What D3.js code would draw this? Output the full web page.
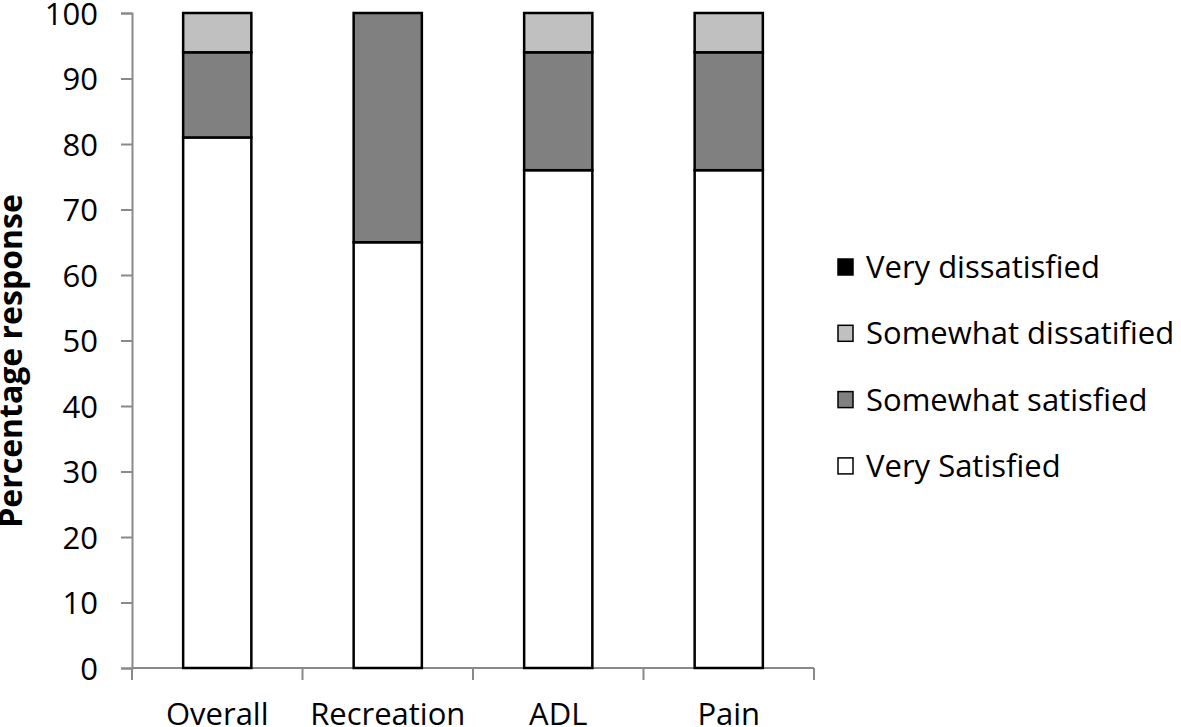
<!DOCTYPE html>
<html><head><meta charset="utf-8">
<script src="https://cdn.jsdelivr.net/npm/d3@7"></script>
<style>body{margin:0;background:#fff}svg{display:block}</style>
</head><body>
<svg id="c" width="1181" height="727"></svg>
<script>
const categories = ["Overall", "Recreation", "ADL", "Pain"];
const veryDissatisfied = [0, 0, 0, 0];
const somewhatDissatisfied = [6, 0, 6, 6];
const somewhatSatisfied = [13, 35, 18, 18];
const verySatisfied = [81, 65, 76, 76];
const seriesNames = ["Very Satisfied", "Somewhat satisfied", "Somewhat dissatified", "Very dissatisfied"];
const seriesColors = ["#ffffff", "#808080", "#c0c0c0", "#000000"];
const yTicks = [0, 10, 20, 30, 40, 50, 60, 70, 80, 90, 100];

const font = "'Open Sans', sans-serif";
const fs = 31;
const svg = d3.select("#c");
const x = d3.scaleBand().domain(categories).range([132, 814]).paddingInner(0.6).paddingOuter(0.3);
const y = d3.scaleLinear().domain([0, 100]).range([668, 13]);

const seriesData = [verySatisfied, somewhatSatisfied, somewhatDissatisfied, veryDissatisfied];
const table = categories.map((c, i) => {
  const o = {cat: c};
  seriesNames.forEach((s, j) => o[s] = seriesData[j][i]);
  return o;
});
const stack = d3.stack().keys(seriesNames)(table);

// y axis
const yAxis = svg.append("g").attr("transform", "translate(132,0)")
  .call(d3.axisLeft(y).tickValues(yTicks).tickSize(11).tickPadding(23));
yAxis.select(".domain").attr("stroke", "#898989").attr("stroke-width", 2);
yAxis.selectAll(".tick line").attr("stroke", "#898989").attr("stroke-width", 2);
yAxis.selectAll("text").attr("font-family", font).attr("font-size", fs).attr("fill", "#000").attr("dy", "0.36em");

// x axis with boundary ticks
const xg = svg.append("g");
xg.append("line").attr("x1", 132).attr("x2", 814).attr("y1", y(0)).attr("y2", y(0))
  .attr("stroke", "#898989").attr("stroke-width", 2);
const bounds = d3.range(categories.length + 1).map(i => 132 + i * (814 - 132) / categories.length);
xg.selectAll(".bt").data(bounds).enter().append("line")
  .attr("x1", d => d).attr("x2", d => d).attr("y1", y(0)).attr("y2", y(0) + 12)
  .attr("stroke", "#898989").attr("stroke-width", 2);
xg.selectAll(".lab").data(categories).enter().append("text")
  .attr("x", d => x(d) + x.bandwidth() / 2).attr("y", 725)
  .attr("text-anchor", "middle").attr("font-family", font).attr("font-size", fs).text(d => d);

// bars
stack.forEach((layer, j) => {
  svg.append("g").selectAll("rect").data(layer.filter(d => d[1] - d[0] > 0)).enter().append("rect")
    .attr("x", d => x(d.data.cat)).attr("width", x.bandwidth())
    .attr("y", d => y(d[1])).attr("height", d => y(d[0]) - y(d[1]))
    .attr("fill", seriesColors[j]).attr("stroke", "#000").attr("stroke-width", 2.5);
});

// y title
svg.append("text").attr("transform", "translate(22,361) rotate(-90)")
  .attr("text-anchor", "middle").attr("font-family", font).attr("font-weight", "bold")
  .attr("font-size", 32).text("Percentage response");

// legend
const legendOrder = [3, 2, 1, 0];
const lg = svg.append("g");
legendOrder.forEach((j, k) => {
  const cy = 267 + k * 66.3;
  lg.append("rect").attr("x", 838).attr("y", cy - 8).attr("width", 15).attr("height", 16)
    .attr("fill", seriesColors[j]).attr("stroke", "#000").attr("stroke-width", 1.5);
  lg.append("text").attr("x", 866).attr("y", cy).attr("dy", "0.36em")
    .attr("font-family", font).attr("font-size", fs).text(seriesNames[j]);
});
</script>
</body></html>
